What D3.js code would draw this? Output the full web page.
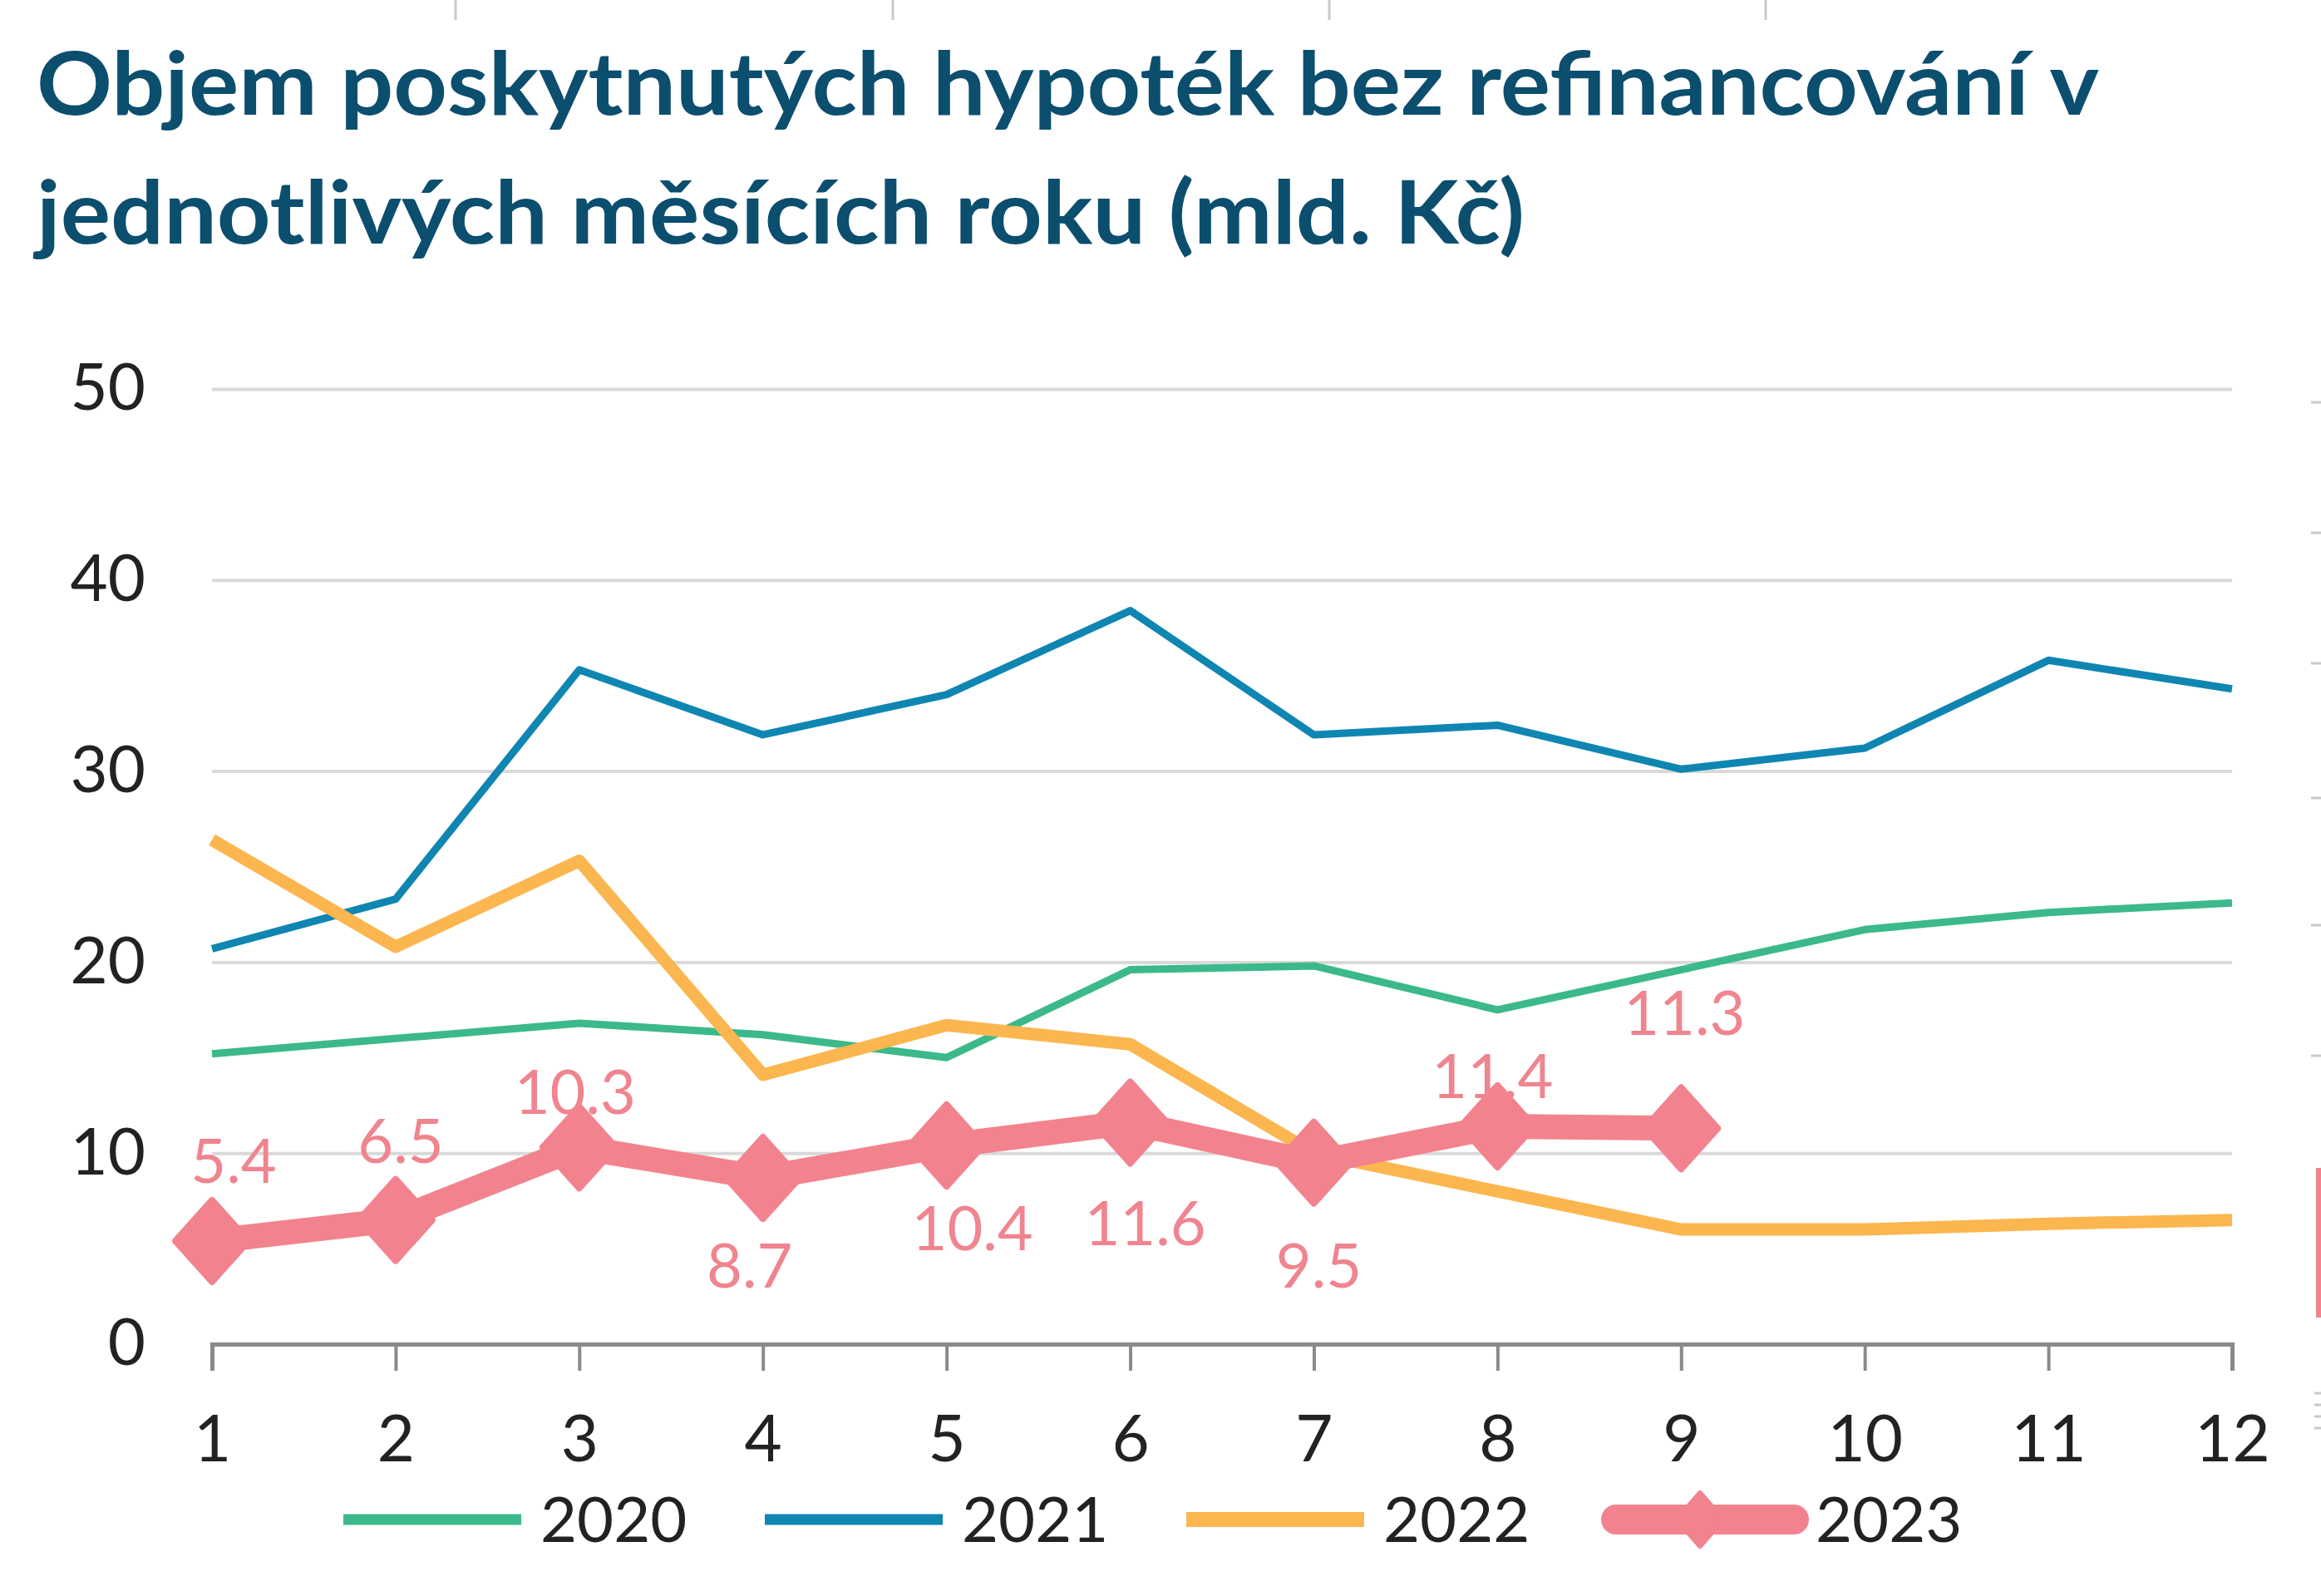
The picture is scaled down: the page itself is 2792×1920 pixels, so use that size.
<!DOCTYPE html>
<html>
<head>
<meta charset="utf-8">
<script src="https://cdn.jsdelivr.net/npm/d3@7"></script>
<style>
  body { margin: 0; background: #fff; }
  svg { display: block; }
</style>
</head>
<body>
<script>
var width = 2792;
var height = 1920;

// data (mld. Kč)
var months = [1, 2, 3, 4, 5, 6, 7, 8, 9, 10, 11, 12];
var years = ["2020", "2021", "2022", "2023"];
var v2020 = [15.2, 16.0, 16.8, 16.2, 15.0, 19.6, 19.8, 17.5, 19.6, 21.7, 22.6, 23.1];
var v2021 = [20.7, 23.3, 35.3, 31.9, 34.0, 38.4, 31.9, 32.4, 30.1, 31.2, 35.8, 34.3];
var v2022 = [26.4, 20.8, 25.3, 14.1, 16.7, 15.7, 10.0, 8.0, 6.0, 6.0, 6.3, 6.5];
var v2023 = [5.4, 6.5, 10.3, 8.7, 10.4, 11.6, 9.5, 11.4, 11.3];
var yTicks = [0, 10, 20, 30, 40, 50];
var titleLines = ["Objem poskytnutých hypoték bez refinancování v",
                  "jednotlivých měsících roku (mld. Kč)"];

// styling
var colors = { "2020": "#3cb98a", "2021": "#0f86b1", "2022": "#fbb64f", "2023": "#f2838e" };
var widths = { "2020": 9, "2021": 9, "2022": 15, "2023": 30 };
// manual label placement for 2023 (px, like in the Excel original)
var labelDx = [26, 6, -5, -16, 31, 18, 6, -6, 4];
var labelDy = [-96, -95, -66, 106, 100, 122, 124, -60, -138];

var series = [
    { year: "2020", values: v2020 },
    { year: "2021", values: v2021 },
    { year: "2022", values: v2022 },
    { year: "2023", values: v2023 }
];

var svg = d3.select("body")
    .append("svg")
    .attr("width", width)
    .attr("height", height);

var x = d3.scaleLinear().domain([1, 12]).range([255, 2685]);
var y = d3.scaleLinear().domain([0, 50]).range([1617, 468]);

// bits of neighbouring charts cut off at the edges
var deco = svg.append("g").attr("stroke", "#c9c9c9").attr("stroke-width", 3);
[548, 1074, 1599, 2124].forEach(function(px) {
    deco.append("line").attr("x1", px).attr("x2", px).attr("y1", 0).attr("y2", 24);
});
[484, 641, 798, 960, 1113, 1270].forEach(function(py) {
    deco.append("line").attr("x1", 2780).attr("x2", 2792).attr("y1", py).attr("y2", py);
});
svg.append("rect").attr("x", 2786).attr("y", 1405).attr("width", 6).attr("height", 180)
    .attr("fill", "#f2838e");
[1676, 1690, 1704, 1718].forEach(function(py) {
    deco.append("line").attr("x1", 2784).attr("x2", 2792).attr("y1", py).attr("y2", py);
});

// title
var title = svg.append("g").attr("fill", "#0c4e6e")
    .style("font-family", "Lato, 'Open Sans', sans-serif")
    .style("font-weight", 700)
    .style("font-size", "106px");
title.append("text").attr("x", 44).attr("y", 138)
    .attr("textLength", 2481).attr("lengthAdjust", "spacingAndGlyphs")
    .text(titleLines[0]);
title.append("text").attr("x", 44).attr("y", 293)
    .attr("textLength", 1790).attr("lengthAdjust", "spacingAndGlyphs")
    .text(titleLines[1]);

// y axis with gridlines
var yAxis = svg.append("g")
    .attr("transform", "translate(" + x(1) + ",0)")
    .call(d3.axisLeft(y).tickValues(yTicks).tickSize(-(x(12) - x(1))).tickPadding(80));
yAxis.select(".domain").remove();
yAxis.selectAll(".tick line")
    .attr("stroke", "#d9d9d9")
    .attr("stroke-width", 4)
    .attr("stroke-opacity", function(d) { return d === 0 ? 0 : 1; });
yAxis.selectAll(".tick text")
    .attr("fill", "#222")
    .style("font-family", "Lato, sans-serif")
    .style("font-size", "78px");

// x axis
var xAxis = svg.append("g")
    .attr("transform", "translate(0," + y(0) + ")")
    .call(d3.axisBottom(x).tickValues(months).tickFormat(d3.format("d")).tickSize(32));
xAxis.select(".domain").attr("stroke", "#8a8a8a").attr("stroke-width", 5);
xAxis.selectAll(".tick line").attr("stroke", "#8a8a8a").attr("stroke-width", 4);
xAxis.selectAll(".tick text")
    .attr("y", 114)
    .attr("dy", "0.35em")
    .attr("fill", "#222")
    .style("font-family", "Lato, sans-serif")
    .style("font-size", "78px");

// lines
var line = d3.line()
    .x(function(d, i) { return x(months[i]); })
    .y(function(d) { return y(d); });

svg.append("g").selectAll("path")
    .data(series)
    .enter()
    .append("path")
    .attr("d", function(d) { return line(d.values); })
    .attr("fill", "none")
    .attr("stroke", function(d) { return colors[d.year]; })
    .attr("stroke-width", function(d) { return widths[d.year]; })
    .attr("stroke-linejoin", "round");

// 2023 diamonds (rounded corners via a same-colour stroke)
var diamond = "M0,-49L44,0L0,49L-44,0Z";
svg.append("g").selectAll("path")
    .data(v2023)
    .enter()
    .append("path")
    .attr("d", diamond)
    .attr("transform", function(d, i) { return "translate(" + x(months[i]) + "," + y(d) + ")"; })
    .attr("fill", colors["2023"])
    .attr("stroke", colors["2023"])
    .attr("stroke-width", 8)
    .attr("stroke-linejoin", "round");

// 2023 labels
svg.append("g").selectAll("text")
    .data(v2023)
    .enter()
    .append("text")
    .attr("x", function(d, i) { return x(months[i]) + labelDx[i]; })
    .attr("y", function(d, i) { return y(d) + labelDy[i]; })
    .attr("dy", "0.35em")
    .attr("text-anchor", "middle")
    .attr("fill", "#f0848f")
    .style("font-family", "Lato, sans-serif")
    .style("font-size", "74px")
    .text(function(d) { return d3.format(".1f")(d); });

// legend
var legend = svg.append("g").attr("transform", "translate(0,1828)");
var item = legend.selectAll("g")
    .data(years)
    .enter()
    .append("g")
    .attr("transform", function(d, i) { return "translate(" + (413 + i * 507) + ",0)"; });

item.append("line")
    .attr("x1", function(d) { return d === "2023" ? 10 : 0; })
    .attr("x2", function(d) { return d === "2023" ? 224 : 214; })
    .attr("stroke", function(d) { return colors[d]; })
    .attr("stroke-width", function(d) { return d === "2023" ? 36 : (d === "2022" ? 18 : 13); })
    .attr("stroke-linecap", function(d) { return d === "2023" ? "round" : "butt"; });

item.filter(function(d) { return d === "2023"; })
    .append("path")
    .attr("d", "M0,-32L28,0L0,32L-28,0Z")
    .attr("transform", "translate(111,0)")
    .attr("fill", colors["2023"])
    .attr("stroke", colors["2023"])
    .attr("stroke-width", 6)
    .attr("stroke-linejoin", "round");

item.append("text")
    .attr("x", function(d) { return d === "2023" ? 250 : 237; })
    .attr("dy", "0.35em")
    .attr("fill", "#222")
    .style("font-family", "Lato, sans-serif")
    .style("font-size", "76px")
    .text(function(d) { return d; });
</script>
</body>
</html>
